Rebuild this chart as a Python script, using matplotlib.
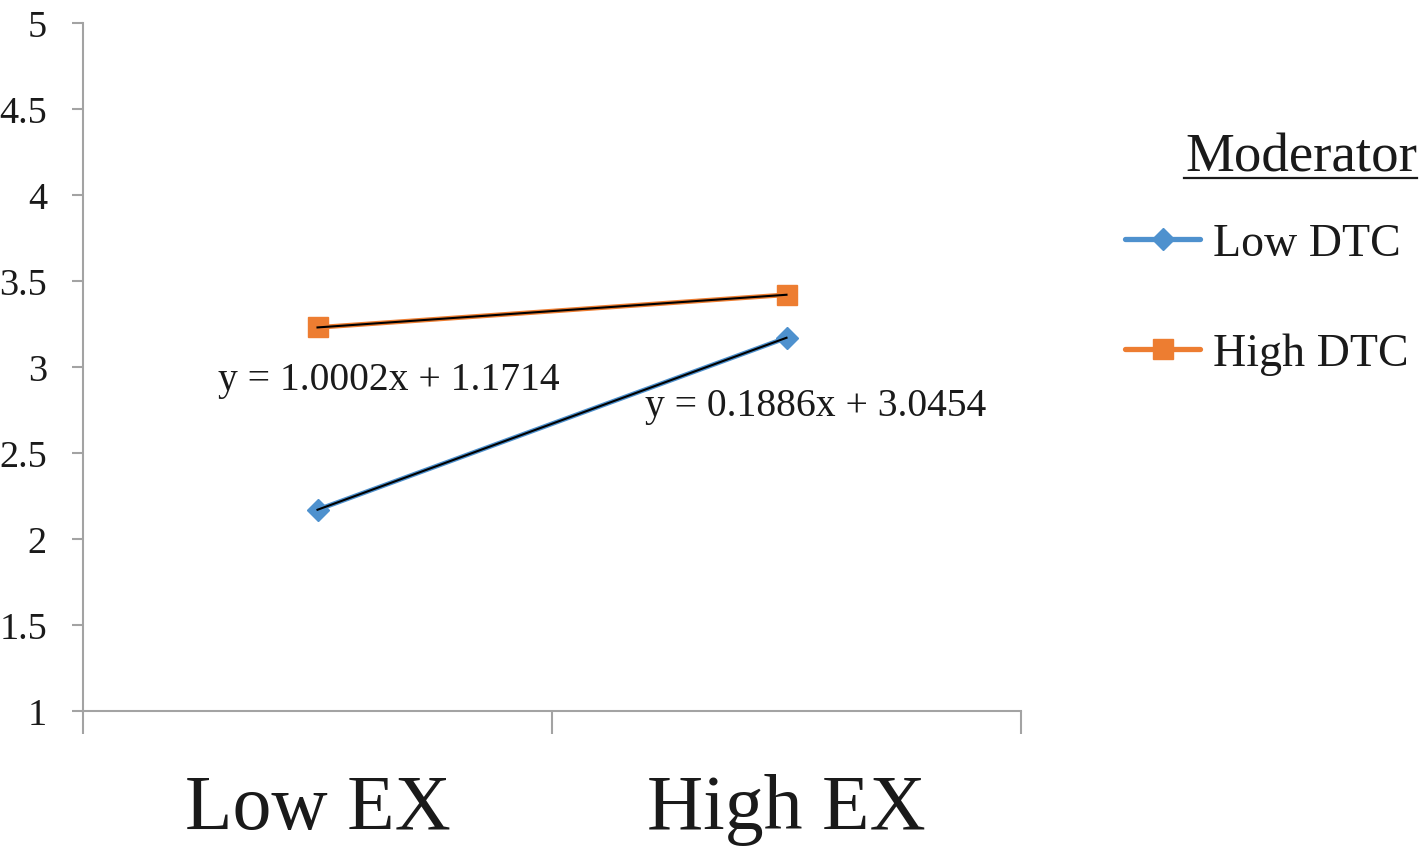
import matplotlib
matplotlib.use("Agg")
import matplotlib.pyplot as plt
import numpy as np
from matplotlib.lines import Line2D

categories = ["Low EX", "High EX"]
low_dtc = [2.17, 3.17]
high_dtc = [3.23, 3.42]
series_names = ["Low DTC", "High DTC"]
eq_labels = ["y = 1.0002x + 1.1714", "y = 0.1886x + 3.0454"]
yticks = [1, 1.5, 2, 2.5, 3, 3.5, 4, 4.5, 5]
ytick_labels = ["1", "1.5", "2", "2.5", "3", "3.5", "4", "4.5", "5"]

plt.rcParams['font.family'] = ['Liberation Serif', 'DejaVu Serif']
BLUE = "#4E91CE"
ORANGE = "#ED7D31"
GRAY = "#A3A3A3"
TXT = "#1a1a1a"

W, H = 1421, 854
fig = plt.figure(figsize=(W / 100, H / 100), dpi=100)
ax = fig.add_axes([83 / W, 1 - 712 / H, (1021 - 83) / W, (712 - 24) / H])

x = np.arange(len(categories))
l1, = ax.plot(x, low_dtc, color=BLUE, lw=3.4, marker='D', ms=11.5, solid_capstyle='round', zorder=3)
l2, = ax.plot(x, high_dtc, color=ORANGE, lw=3.4, marker='s', ms=14.5, solid_capstyle='round', zorder=3)

# linear trendlines
for vals in (low_dtc, high_dtc):
    m, b = np.polyfit(x, vals, 1)
    ax.plot(x, m * x + b, color='black', lw=1.5, zorder=4)

ax.set_xlim(-0.5, 1.5)
ax.set_ylim(1, 5)
ax.set_yticks(yticks)
ax.set_yticklabels(ytick_labels)
ax.set_xticks(x)
ax.set_xticklabels(categories)
ax.set_xticks([-0.5, 0.5, 1.5], minor=True)

for s in ['top', 'right']:
    ax.spines[s].set_visible(False)
for s in ['left', 'bottom']:
    ax.spines[s].set_color(GRAY)
    ax.spines[s].set_linewidth(1.5)

ax.tick_params(axis='y', which='major', direction='out', length=8, width=1.5,
               color=GRAY, labelsize=27.5, labelcolor=TXT, pad=18)
ax.tick_params(axis='x', which='major', length=0, labelsize=56, labelcolor=TXT, pad=45)
ax.tick_params(axis='x', which='minor', direction='out', length=16.5, width=1.5, color=GRAY)

ax.text(-0.212, 2.925, eq_labels[0], fontsize=28.5, color=TXT, ha='left', va='center')
ax.text(0.698, 2.774, eq_labels[1], fontsize=28.5, color=TXT, ha='left', va='center')

# legend
leg = fig.legend([l1, l2], series_names, loc='upper left',
                 bbox_to_anchor=(1125 / W, 1 - 224 / H), frameon=False,
                 fontsize=33, handlelength=1.64, handletextpad=0.28,
                 labelspacing=1.47, borderpad=0, borderaxespad=0)
for t in leg.get_texts():
    t.set_color(TXT)
for h in leg.legend_handles:
    h.set_linewidth(3.8)

fig.text(1185 / W, 1 - 172 / H, "Moderator", fontsize=39.5, color=TXT, ha='left', va='baseline')
fig.add_artist(Line2D([1184 / W, 1417 / W], [1 - 179 / H, 1 - 179 / H], color=TXT, lw=1.6,
                      transform=fig.transFigure))

fig.savefig("out.png", dpi=100)
